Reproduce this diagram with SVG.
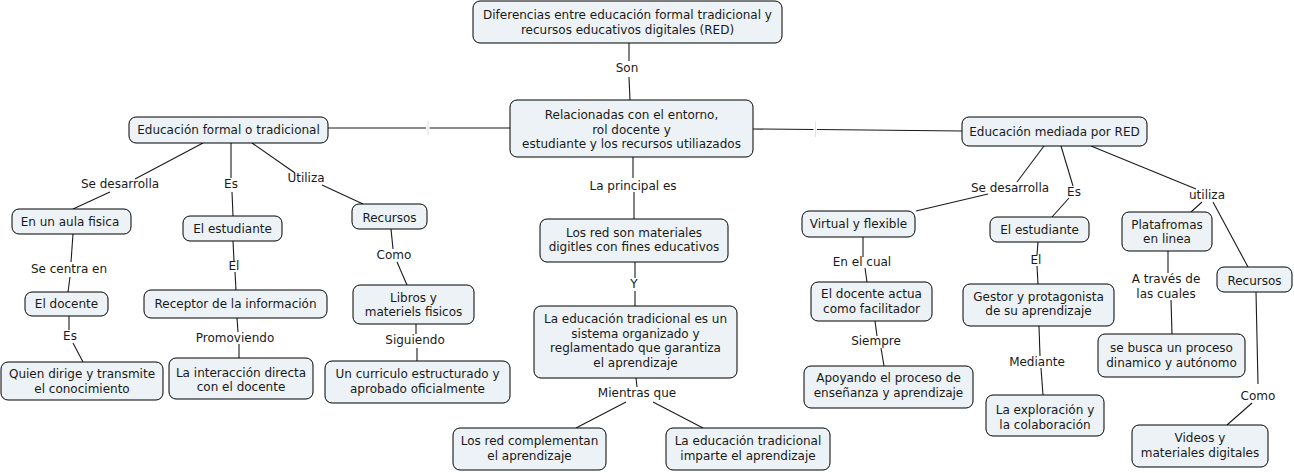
<svg xmlns="http://www.w3.org/2000/svg" width="1294" height="473" viewBox="0 0 1294 473">
<style>
.n rect{fill:#ecf2f5;stroke:#000;stroke-width:1}
text{font-family:"DejaVu Sans",Verdana,sans-serif;font-size:12px;fill:#1a1a1a;text-anchor:middle}
.c line{stroke:#1a1a1a;stroke-width:1.1}
.c .tick{stroke:#e2e2e2}
</style>
<rect width="1294" height="473" fill="#fff"/>
<g class="c" id="connectors">
<line x1="629" y1="43" x2="629" y2="61"/><line x1="629" y1="77" x2="630" y2="100"/>
<line x1="633" y1="157" x2="633" y2="178"/><line x1="634" y1="192" x2="634" y2="219"/>
<line x1="635" y1="262" x2="635" y2="278"/><line x1="635" y1="291" x2="635" y2="306"/>
<line x1="636" y1="378" x2="637" y2="387"/>
<line x1="626" y1="402" x2="576" y2="428"/><line x1="653" y1="402" x2="703" y2="428"/>
<line x1="328" y1="128" x2="426" y2="128"/><line x1="429.5" y1="128" x2="510" y2="128"/><line class="tick" x1="428" y1="121" x2="428" y2="135"/>
<line x1="753" y1="129" x2="813.5" y2="129.5"/><line x1="817" y1="129.5" x2="962" y2="131"/><line class="tick" x1="815.5" y1="122" x2="815.5" y2="137"/>
<line x1="203" y1="143" x2="135" y2="179"/><line x1="110" y1="192" x2="73" y2="209"/>
<line x1="231" y1="143" x2="231" y2="178"/><line x1="232" y1="192" x2="233" y2="216"/>
<line x1="252" y1="143" x2="295" y2="173"/><line x1="322" y1="185" x2="363" y2="204"/>
<line x1="73" y1="234" x2="71" y2="262"/><line x1="70" y1="277" x2="68" y2="292"/>
<line x1="69" y1="316" x2="69" y2="330"/><line x1="73" y1="343" x2="83" y2="362"/>
<line x1="233" y1="241" x2="234" y2="261"/><line x1="235" y1="272" x2="236" y2="290"/>
<line x1="237" y1="318" x2="238" y2="332"/><line x1="239" y1="344" x2="239" y2="358"/>
<line x1="391" y1="229" x2="393" y2="249"/><line x1="397" y1="262" x2="407" y2="285"/>
<line x1="416" y1="324" x2="416" y2="334"/><line x1="417" y1="348" x2="417" y2="361"/>
<line x1="1044" y1="146" x2="1017" y2="182"/><line x1="988" y1="194" x2="916" y2="211"/>
<line x1="1061" y1="146" x2="1073" y2="186"/><line x1="1069" y1="198" x2="1052" y2="217"/>
<line x1="1091" y1="146" x2="1196" y2="189"/><line x1="1202" y1="202" x2="1191" y2="212"/>
<line x1="1213" y1="202" x2="1248" y2="267"/>
<line x1="1168" y1="251" x2="1168" y2="273"/><line x1="1171" y1="300" x2="1172" y2="334"/>
<line x1="1256" y1="292" x2="1258" y2="384"/><line x1="1252" y1="403" x2="1227" y2="425"/>
<line x1="1038" y1="242" x2="1037" y2="255"/><line x1="1037" y1="266" x2="1038" y2="284"/>
<line x1="1039" y1="326" x2="1040" y2="356"/><line x1="1041" y1="368" x2="1043" y2="395"/>
<line x1="863" y1="237" x2="863" y2="257"/><line x1="865" y1="268" x2="867" y2="282"/>
<line x1="875" y1="321" x2="877" y2="336"/><line x1="881" y1="348" x2="884" y2="366"/>
</g>
<g id="labels">
<text x="627" y="72">Son</text>
<text x="633" y="190">La principal es</text>
<text x="634" y="288">Y</text>
<text x="637" y="397">Mientras que</text>
<text x="120" y="188">Se desarrolla</text>
<text x="231" y="188">Es</text>
<text x="306" y="182">Utiliza</text>
<text x="69" y="273">Se centra en</text>
<text x="70" y="340">Es</text>
<text x="234" y="270">El</text>
<text x="235" y="342">Promoviendo</text>
<text x="394" y="259">Como</text>
<text x="415" y="344">Siguiendo</text>
<text x="1010" y="192">Se desarrolla</text>
<text x="1074" y="196">Es</text>
<text x="1207" y="199">utiliza</text>
<text x="862" y="266">En el cual</text>
<text x="876" y="345">Siempre</text>
<text x="1036" y="264">El</text>
<text x="1037" y="366">Mediante</text>
<text x="1166" y="283">A través de</text>
<text x="1166" y="298">las cuales</text>
<text x="1258" y="400">Como</text>
</g>
<g class="n" id="n-title"><rect x="473" y="1" width="309" height="42" rx="7"/><text x="627.5" y="19">Diferencias entre educación formal tradicional y</text><text x="627.5" y="34">recursos educativos digitales (RED)</text></g>
<g class="n" id="n-center"><rect x="510" y="100" width="243" height="57" rx="7"/><text x="631.5" y="119">Relacionadas con el entorno,</text><text x="631.5" y="133.5">rol docente y</text><text x="631.5" y="148">estudiante y los recursos utiliazados</text></g>
<g class="n" id="n-losred"><rect x="540" y="219" width="188" height="43" rx="7"/><text x="634" y="237">Los red son materiales</text><text x="634" y="251">digitles con fines educativos</text></g>
<g class="n" id="n-edutrad"><rect x="534" y="306" width="203" height="72" rx="7"/><text x="635.5" y="323">La educación tradicional es un</text><text x="635.5" y="337.5">sistema organizado y</text><text x="635.5" y="352">reglamentado que garantiza</text><text x="635.5" y="366.5">el aprendizaje</text></g>
<g class="n" id="n-complementan"><rect x="453" y="428" width="153" height="42" rx="7"/><text x="529.5" y="445">Los red complementan</text><text x="529.5" y="459.5">el aprendizaje</text></g>
<g class="n" id="n-imparte"><rect x="666" y="428" width="164" height="42" rx="7"/><text x="748" y="445">La educación tradicional</text><text x="748" y="459.5">imparte el aprendizaje</text></g>
<g class="n" id="n-formal"><rect x="129" y="117" width="199" height="26" rx="7"/><text x="228.5" y="134">Educación formal o tradicional</text></g>
<g class="n" id="n-mediada"><rect x="962" y="117" width="185" height="29" rx="7"/><text x="1054.5" y="135.5">Educación mediada por RED</text></g>
<g class="n" id="n-aula"><rect x="12" y="209" width="119" height="25" rx="7"/><text x="70" y="226">En un aula fisica</text></g>
<g class="n" id="n-estudiante-l"><rect x="183" y="216" width="99" height="25" rx="7"/><text x="232.5" y="233">El estudiante</text></g>
<g class="n" id="n-recursos-l"><rect x="352" y="204" width="75" height="25" rx="7"/><text x="389.5" y="221.5">Recursos</text></g>
<g class="n" id="n-docente"><rect x="25" y="292" width="83" height="24" rx="7"/><text x="66.5" y="308">El docente</text></g>
<g class="n" id="n-quien"><rect x="1" y="362" width="162" height="38" rx="7"/><text x="82" y="378">Quien dirige y transmite</text><text x="82" y="392.5">el conocimiento</text></g>
<g class="n" id="n-receptor"><rect x="144" y="290" width="183" height="28" rx="7"/><text x="235.5" y="307.5">Receptor de la información</text></g>
<g class="n" id="n-interaccion"><rect x="169" y="358" width="144" height="41" rx="7"/><text x="241" y="376.5">La interacción directa</text><text x="241" y="391">con el docente</text></g>
<g class="n" id="n-libros"><rect x="353" y="285" width="121" height="39" rx="7"/><text x="413.5" y="301.5">Libros y</text><text x="413.5" y="316">materiels fisicos</text></g>
<g class="n" id="n-curriculo"><rect x="325" y="361" width="185" height="42" rx="7"/><text x="417.5" y="378">Un curriculo estructurado y</text><text x="417.5" y="392.5">aprobado oficialmente</text></g>
<g class="n" id="n-virtual"><rect x="802" y="211" width="113" height="26" rx="7"/><text x="858.5" y="228">Virtual y flexible</text></g>
<g class="n" id="n-estudiante-r"><rect x="990" y="217" width="99" height="25" rx="7"/><text x="1039.5" y="234">El estudiante</text></g>
<g class="n" id="n-plataformas"><rect x="1122" y="212" width="90" height="39" rx="7"/><text x="1167" y="229">Platafromas</text><text x="1167" y="243">en linea</text></g>
<g class="n" id="n-recursos-r"><rect x="1217" y="267" width="75" height="25" rx="7"/><text x="1254.5" y="284.5">Recursos</text></g>
<g class="n" id="n-busca"><rect x="1098" y="334" width="147" height="43" rx="7"/><text x="1171.5" y="352">se busca un proceso</text><text x="1171.5" y="366.5">dinamico y autónomo</text></g>
<g class="n" id="n-videos"><rect x="1132" y="425" width="136" height="42" rx="7"/><text x="1200" y="442">Videos y</text><text x="1200" y="456.5">materiales digitales</text></g>
<g class="n" id="n-facilitador"><rect x="811" y="282" width="121" height="39" rx="7"/><text x="871.5" y="298">El docente actua</text><text x="871.5" y="312.5">como facilitador</text></g>
<g class="n" id="n-apoyando"><rect x="804" y="366" width="169" height="42" rx="7"/><text x="888.5" y="382">Apoyando el proceso de</text><text x="888.5" y="396.5">enseñanza y aprendizaje</text></g>
<g class="n" id="n-gestor"><rect x="963" y="284" width="151" height="42" rx="7"/><text x="1038.5" y="300.5">Gestor y protagonista</text><text x="1038.5" y="315">de su aprendizaje</text></g>
<g class="n" id="n-exploracion"><rect x="986" y="395" width="118" height="41" rx="7"/><text x="1045" y="414">La exploración y</text><text x="1045" y="428.5">la colaboración</text></g>
</svg>
